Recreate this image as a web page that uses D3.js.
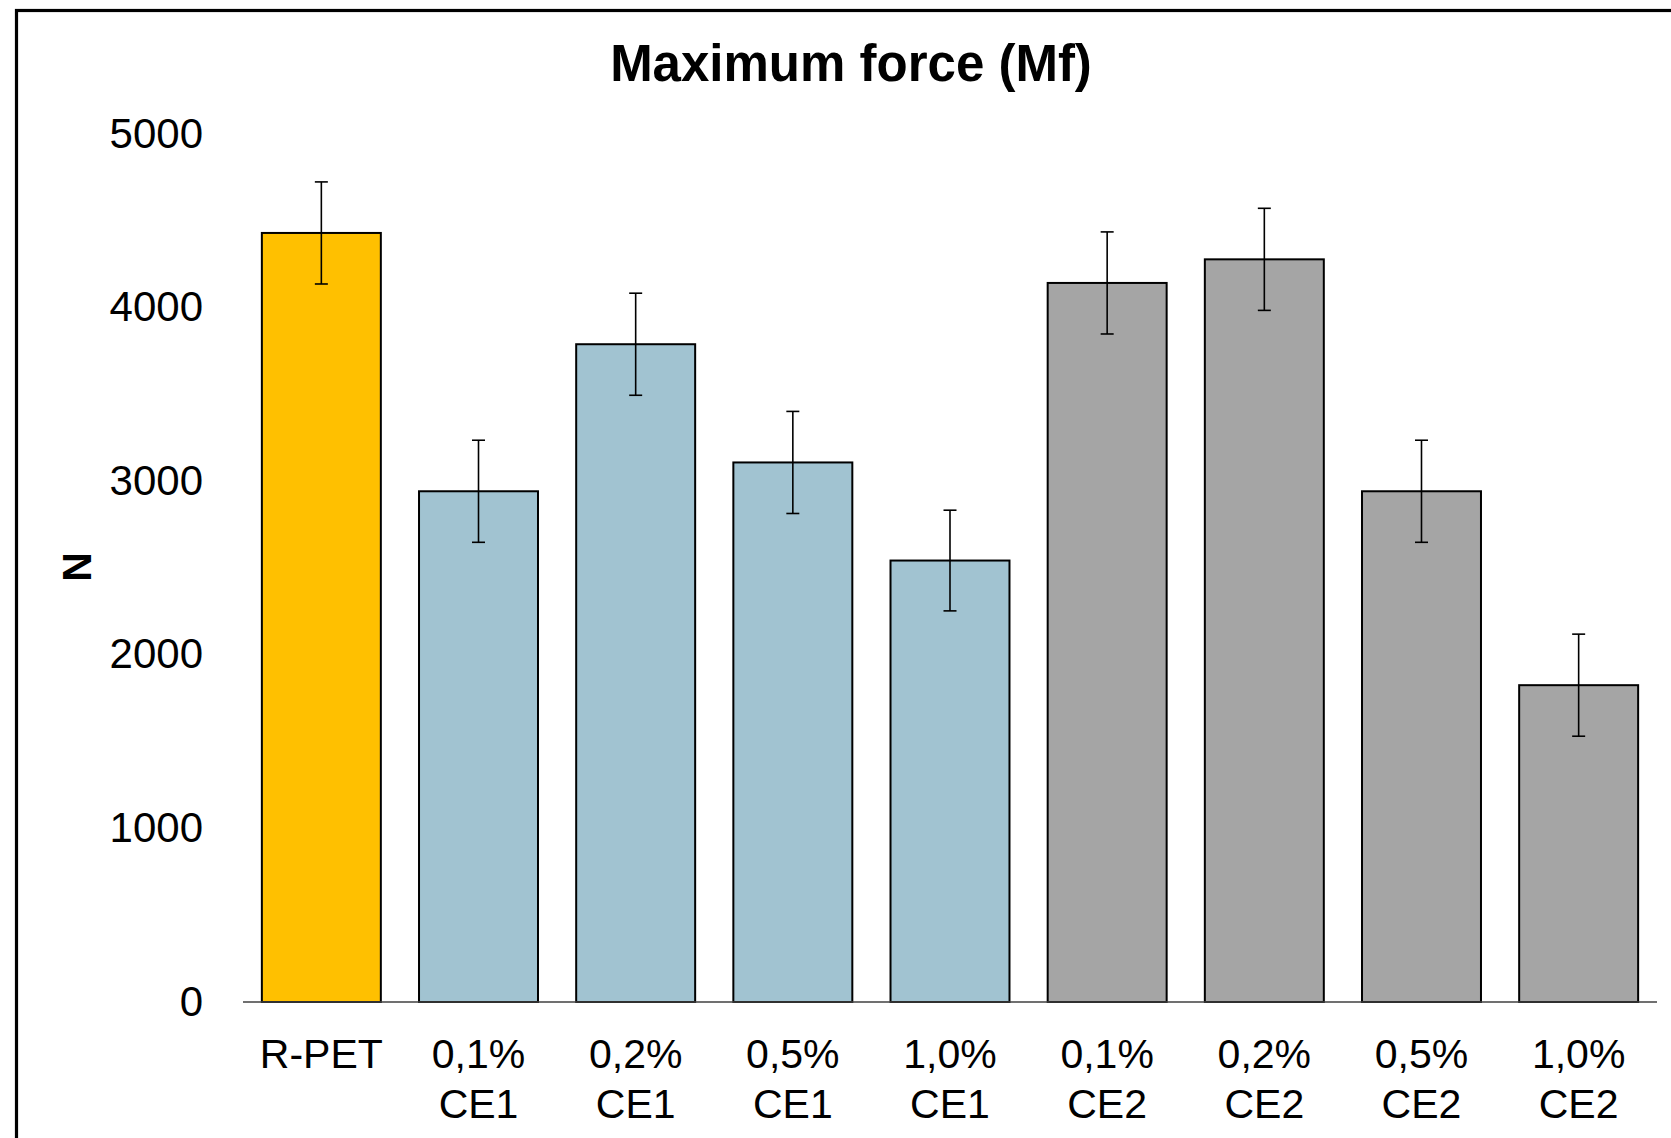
<!DOCTYPE html>
<html>
<head>
<meta charset="utf-8">
<script src="https://cdn.jsdelivr.net/npm/d3@7"></script>
<style>
  html, body { margin: 0; padding: 0; background: #fff; }
  svg { display: block; font-family: "Liberation Sans", Arial, sans-serif; }
</style>
</head>
<body>
<svg id="chart" width="1671" height="1138"></svg>
<script>
// ---- data ----
const categories = ["R-PET", "0,1% CE1", "0,2% CE1", "0,5% CE1", "1,0% CE1", "0,1% CE2", "0,2% CE2", "0,5% CE2", "1,0% CE2"];
const labelLines = [["R-PET"], ["0,1%", "CE1"], ["0,2%", "CE1"], ["0,5%", "CE1"], ["1,0%", "CE1"], ["0,1%", "CE2"], ["0,2%", "CE2"], ["0,5%", "CE2"], ["1,0%", "CE2"]];
const values = [4430, 2942, 3789, 3108, 2543, 4142, 4278, 2942, 1825];
const errors = [294, 294, 294, 294, 290, 294, 294, 294, 294];
const groups = ["ref", "CE1", "CE1", "CE1", "CE1", "CE2", "CE2", "CE2", "CE2"];
const yTicks = [0, 1000, 2000, 3000, 4000, 5000];
const groupColors = { ref: "#FFC000", CE1: "#A1C3D1", CE2: "#A5A5A5" };
const titleText = "Maximum force (Mf)";
const yLabel = "N";

// ---- layout ----
const svg = d3.select("#chart");
const x0 = 243, x1 = 1657, yBase = 1002, yTop = 134;

// outer frame (extends beyond the right/bottom edges)
svg.append("rect")
  .attr("x", 16.5).attr("y", 10.5)
  .attr("width", 1700).attr("height", 1200)
  .attr("fill", "none").attr("stroke", "#000").attr("stroke-width", 3.2);

const x = d3.scaleBand().domain(categories).range([x0, x1]).paddingInner(0.243).paddingOuter(0.12);
const y = d3.scaleLinear().domain([0, 5000]).range([yBase, yTop]);

// title
svg.append("text")
  .attr("x", 851).attr("y", 81)
  .attr("text-anchor", "middle")
  .attr("font-size", 51).attr("font-weight", "bold")
  .text(titleText);

// y axis labels
const yAxis = d3.axisLeft(y).tickValues(yTicks).tickSize(0).tickPadding(0).tickFormat(d3.format("d"));
const gy = svg.append("g").attr("transform", "translate(203,0)").call(yAxis);
gy.select(".domain").remove();
gy.selectAll("text")
  .attr("font-size", 42)
  .attr("font-family", "'Liberation Sans', Arial, sans-serif")
  .attr("fill", "#000")
  .attr("dy", "0.31em");

// y axis title
svg.append("text")
  .attr("transform", "translate(91,567) rotate(-90)")
  .attr("text-anchor", "middle")
  .attr("font-size", 41).attr("font-weight", "bold")
  .text(yLabel);

// bars
svg.append("g").selectAll("rect")
  .data(categories)
  .join("rect")
  .attr("x", d => x(d))
  .attr("y", (d, i) => y(values[i]))
  .attr("width", x.bandwidth())
  .attr("height", (d, i) => y(0) - y(values[i]))
  .attr("fill", (d, i) => groupColors[groups[i]])
  .attr("stroke", "#000")
  .attr("stroke-width", 2);

// x axis line
const xAxis = d3.axisBottom(x).tickSize(0).tickFormat("");
const gx = svg.append("g").attr("transform", `translate(0,${yBase})`).call(xAxis);
gx.select(".domain")
  .attr("d", `M${x0},0H${x1}`)
  .attr("stroke", "#404040").attr("stroke-width", 1.5);

// error bars
const eb = svg.append("g").attr("stroke", "#000").attr("stroke-width", 1.6);
categories.forEach((c, i) => {
  const cx = x(c) + x.bandwidth() / 2;
  const hi = y(values[i] + errors[i]);
  const lo = y(values[i] - errors[i]);
  eb.append("line").attr("x1", cx).attr("x2", cx).attr("y1", hi).attr("y2", lo);
  eb.append("line").attr("x1", cx - 6.5).attr("x2", cx + 6.5).attr("y1", hi).attr("y2", hi);
  eb.append("line").attr("x1", cx - 6.5).attr("x2", cx + 6.5).attr("y1", lo).attr("y2", lo);
});

// category labels
const lg = svg.append("g").attr("font-size", 41).attr("text-anchor", "middle").attr("fill", "#000");
categories.forEach((c, i) => {
  const cx = x(c) + x.bandwidth() / 2;
  const t = lg.append("text").attr("x", cx).attr("y", 1068);
  labelLines[i].forEach((line, k) => {
    t.append("tspan").attr("x", cx).attr("y", 1068 + k * 50).text(line);
  });
});
</script>
</body>
</html>
